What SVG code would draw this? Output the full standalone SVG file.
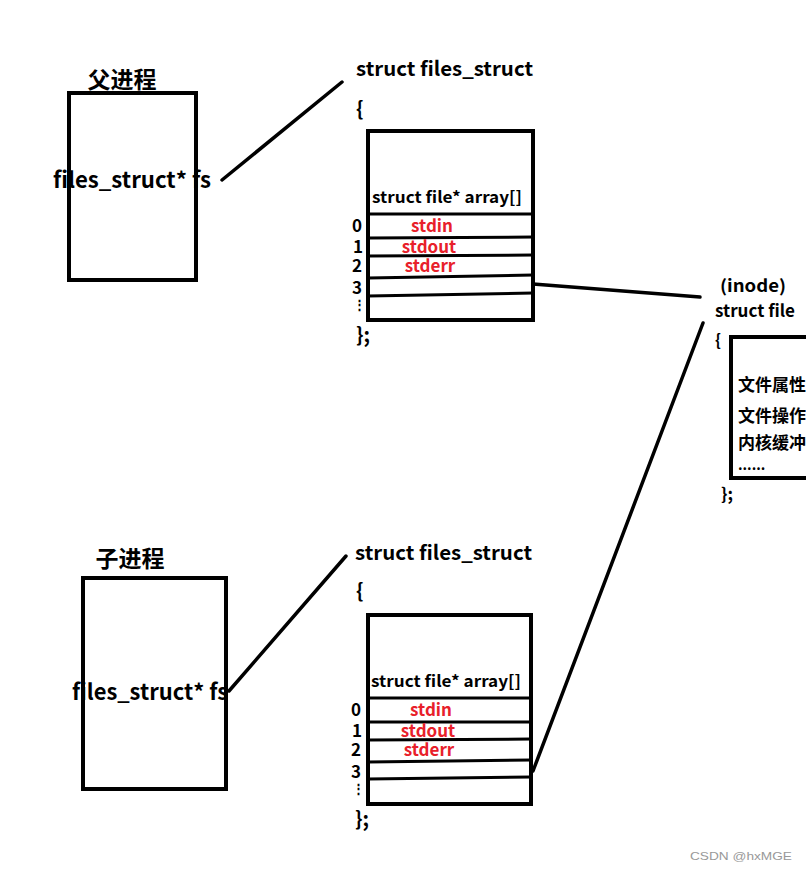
<svg xmlns="http://www.w3.org/2000/svg" width="806" height="870" viewBox="0 0 806 870">
<style>
.t{font-family:"Noto Sans CJK SC","Noto Sans",sans-serif;font-weight:bold;fill:#000}
.r{font-family:"Noto Sans CJK SC","Noto Sans",sans-serif;font-weight:bold;fill:#e8202a;text-anchor:middle;font-size:17px}
.box{fill:none;stroke:#000;stroke-width:4}
.ln{fill:none;stroke:#000;stroke-width:3.5;stroke-linecap:round}
.row{fill:none;stroke:#000;stroke-width:3}
</style>
<rect width="806" height="870" fill="#fff"/>
<g id="parent">
<rect class="box" x="69" y="93" width="127" height="187"/>
<text class="t" x="122" y="88" font-size="23" text-anchor="middle">父进程</text>
<text class="t" x="53" y="188" font-size="22" textLength="158" lengthAdjust="spacingAndGlyphs">files_struct* fs</text>
</g>
<g id="child">
<rect class="box" x="83" y="578" width="143" height="211"/>
<text class="t" x="130" y="567" font-size="23" text-anchor="middle">子进程</text>
<text class="t" x="72" y="700" font-size="22" textLength="156" lengthAdjust="spacingAndGlyphs">files_struct* fs</text>
</g>
<g id="files_top">
<text class="t" x="356" y="76" font-size="20" textLength="177" lengthAdjust="spacingAndGlyphs">struct files_struct</text>
<text class="t" x="356" y="116" font-size="20">{</text>
<rect class="box" x="368" y="131" width="165" height="189"/>
<text class="t" x="372" y="203" font-size="16" textLength="150" lengthAdjust="spacingAndGlyphs">struct file* array[]</text>
<line class="row" x1="368" y1="214" x2="533" y2="214"/>
<line class="row" x1="368" y1="238" x2="533" y2="237"/>
<line class="row" x1="368" y1="256" x2="533" y2="255"/>
<line class="row" x1="368" y1="278" x2="533" y2="275"/>
<line class="row" x1="368" y1="296" x2="533" y2="293"/>
<text class="t" x="352" y="232" font-size="17">0</text>
<text class="t" x="353" y="253" font-size="17">1</text>
<text class="t" x="352" y="272" font-size="17">2</text>
<text class="t" x="352" y="294" font-size="17">3</text>
<text class="t" x="353" y="309" font-size="13">⋮</text>
<text class="r" x="432" y="232">stdin</text>
<text class="r" x="429" y="253">stdout</text>
<text class="r" x="430" y="272">stderr</text>
<text class="t" x="356" y="342" font-size="20">};</text>
</g>
<g id="files_bottom">
<text class="t" x="355" y="560" font-size="20" textLength="177" lengthAdjust="spacingAndGlyphs">struct files_struct</text>
<text class="t" x="356" y="598" font-size="20">{</text>
<rect class="box" x="368" y="615" width="163" height="189"/>
<text class="t" x="371" y="687" font-size="16" textLength="150" lengthAdjust="spacingAndGlyphs">struct file* array[]</text>
<line class="row" x1="368" y1="698" x2="531" y2="698"/>
<line class="row" x1="368" y1="722" x2="531" y2="722"/>
<line class="row" x1="368" y1="740" x2="531" y2="739"/>
<line class="row" x1="368" y1="762" x2="531" y2="760"/>
<line class="row" x1="368" y1="779" x2="531" y2="777"/>
<text class="t" x="351" y="716" font-size="17">0</text>
<text class="t" x="352" y="737" font-size="17">1</text>
<text class="t" x="351" y="756" font-size="17">2</text>
<text class="t" x="351" y="778" font-size="17">3</text>
<text class="t" x="352" y="793" font-size="13">⋮</text>
<text class="r" x="431" y="716">stdin</text>
<text class="r" x="428" y="737">stdout</text>
<text class="r" x="429" y="756">stderr</text>
<text class="t" x="355" y="826" font-size="20">};</text>
</g>
<g id="file_inode">
<text class="t" x="720" y="292" font-size="17" textLength="66" lengthAdjust="spacingAndGlyphs">(inode)</text>
<text class="t" x="715" y="317" font-size="17" textLength="80" lengthAdjust="spacingAndGlyphs">struct file</text>
<text class="t" x="715" y="346" font-size="16">{</text>
<rect class="box" x="731" y="337" width="80" height="141"/>
<text class="t" x="738" y="391" font-size="17">文件属性</text>
<text class="t" x="738" y="422" font-size="17">文件操作</text>
<text class="t" x="738" y="449" font-size="17">内核缓冲</text>
<text class="t" x="738" y="470" font-size="14">......</text>
<text class="t" x="721" y="500" font-size="17">};</text>
</g>
<g id="connectors">
<line class="ln" x1="222" y1="180" x2="342" y2="82"/>
<line class="ln" x1="229" y1="691" x2="346" y2="556"/>
<line class="ln" x1="533" y1="284" x2="700" y2="297"/>
<line class="ln" x1="703" y1="323" x2="533" y2="771"/>
</g>
<text x="690" y="860" font-family="Liberation Sans,Arial,sans-serif" font-size="11" fill="#999" textLength="102" lengthAdjust="spacingAndGlyphs">CSDN @hxMGE</text>
</svg>
